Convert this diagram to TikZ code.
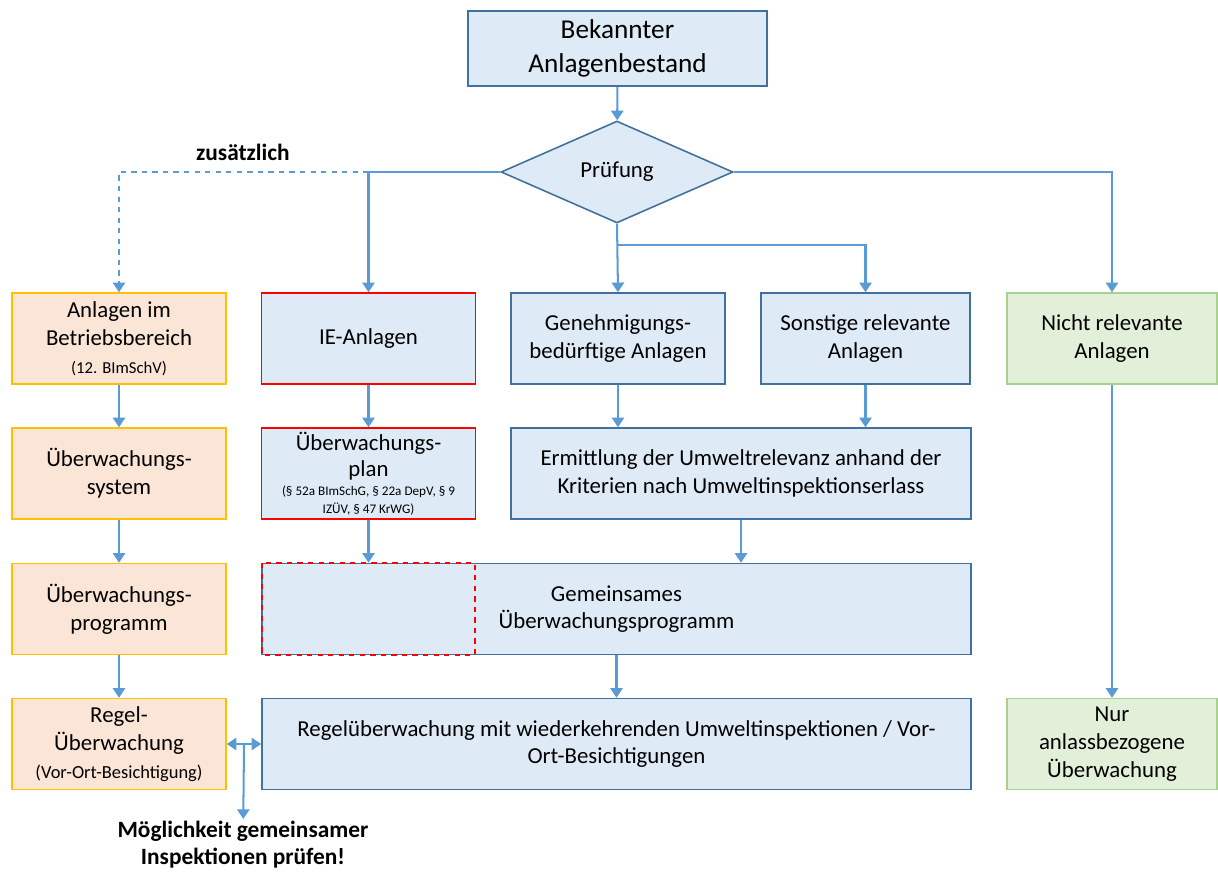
\documentclass[tikz,border=0pt]{standalone}
\usepackage{fontspec}
\setmainfont{Carlito}
\usetikzlibrary{shapes.geometric,arrows.meta,calc}
\definecolor{boxblue}{HTML}{DEEBF7}
\definecolor{edgeblue}{HTML}{41719C}
\definecolor{lineblue}{HTML}{5B9BD5}
\definecolor{boxorange}{HTML}{FBE5D6}
\definecolor{edgeorange}{HTML}{FFC000}
\definecolor{boxgreen}{HTML}{E2F0D9}
\definecolor{edgegreen}{HTML}{A9D18E}
\definecolor{edgered}{HTML}{FF0000}
\begin{document}
\begin{tikzpicture}[x=0.02cm,y=-0.02cm,
    blok/.style={draw=edgeblue,fill=boxblue,line width=0.9pt,align=center,
        font=\fontsize{13}{15.8}\selectfont,minimum width=4.28cm,minimum height=1.82cm,inner sep=2pt},
    orangeblok/.style={blok,draw=edgeorange,fill=boxorange},
    redblok/.style={blok,draw=edgered},
    greenblok/.style={blok,draw=edgegreen,fill=boxgreen},
    pfeil/.style={draw=lineblue,line width=1.15pt,-{Triangle[width=7pt,length=5.5pt]}},
    fett/.style={font=\bfseries\fontsize{13.3}{15.5}\selectfont,align=center}]
    \useasboundingbox (0,0) rectangle (1218,874);

    \node[blok,minimum width=5.98cm,minimum height=1.5cm,font=\fontsize{15.5}{19}\selectfont] (bestand) at (617.5,48.5){Bekannter\\Anlagenbestand};
    \node[blok,diamond,aspect=2.3,minimum width=4.64cm,minimum height=2.04cm,inner sep=0pt] (pruefung) at (617,172){Prüfung};

    % erste Reihe
    \node[orangeblok] (betrieb) at (119,338.5){Anlagen im\\Betriebsbereich\\{\fontsize{9.5}{11}\selectfont (12. BImSchV)}};
    \node[redblok] (iea) at (368.5,338.5){IE-Anlagen};
    \node[blok] (genehm) at (618,338.5){Genehmigungs-\\bedürftige Anlagen};
    \node[blok,minimum width=4.18cm] (sonst) at (865.5,338.5){Sonstige relevante\\Anlagen};
    \node[greenblok,minimum width=4.2cm] (nichtrel) at (1112,338.5){Nicht relevante\\Anlagen};

    % zweite Reihe
    \node[orangeblok] (uesys) at (119,473.5){Überwachungs-\\system};
    \node[redblok,inner sep=0pt,font=\fontsize{13}{15}\selectfont] (ueplan) at (368.5,473.5){Überwachungs-\\plan\\[-4pt]{\fontsize{7.5}{9}\selectfont (§ 52a BImSchG, § 22a DepV, § 9}\\[-5pt]{\fontsize{7.5}{9}\selectfont IZÜV, § 47 KrWG)}};
    \node[blok,minimum width=9.2cm] (ermitt) at (741,473.5){Ermittlung der Umweltrelevanz anhand der\\Kriterien nach Umweltinspektionserlass};

    % dritte Reihe
    \node[orangeblok] (ueprog) at (119,609){Überwachungs-\\programm};
    \node[blok,minimum width=14.18cm] (gemein) at (616.5,609){Gemeinsames\\Überwachungsprogramm};
    \draw[edgered,dashed,line width=0.9pt] (262,563) rectangle (475,655);

    % vierte Reihe
    \node[orangeblok] (regelue) at (119,744){Regel-\\Überwachung\\{\fontsize{10.5}{12}\selectfont (Vor-Ort-Besichtigung)}};
    \node[blok,minimum width=14.18cm] (regelinsp) at (616.5,744){Regelüberwachung mit wiederkehrenden Umweltinspektionen / Vor-\\Ort-Besichtigungen};
    \node[greenblok,minimum width=4.2cm] (anlass) at (1112,744){Nur\\anlassbezogene\\Überwachung};

    \node[fett] (zusatz) at (243,152){zusätzlich};
    \node[fett,anchor=north,inner sep=1pt] (hinweis) at (243,819){Möglichkeit gemeinsamer\\Inspektionen prüfen!};

    % Verbindungen
    \draw[pfeil] (bestand) -- (pruefung);
    \draw[pfeil] (pruefung.west) -| (iea.north);
    \coordinate (abzweig) at (iea.north |- pruefung.west);
    \draw[pfeil,dashed] (abzweig) -| (betrieb.north);
    \draw[pfeil] (pruefung.east) -| (nichtrel.north);
    \draw[pfeil] (pruefung.south) -- (genehm.north);
    \coordinate (gabel) at (617,245);
    \draw[pfeil] (gabel) -| (sonst.north);

    \draw[pfeil] (betrieb) -- (uesys);
    \draw[pfeil] (uesys) -- (ueprog);
    \draw[pfeil] (ueprog) -- (regelue);
    \draw[pfeil] (iea) -- (ueplan);
    \draw[pfeil] (ueplan.south) -- (ueplan.south |- gemein.north);
    \draw[pfeil] (genehm.south) -- (genehm.south |- ermitt.north);
    \draw[pfeil] (sonst.south) -- (sonst.south |- ermitt.north);
    \draw[pfeil] (ermitt.south) -- (ermitt.south |- gemein.north);
    \draw[pfeil] (gemein) -- (regelinsp);
    \draw[pfeil] (nichtrel) -- (anlass);

    \draw[pfeil,{Triangle[width=7pt,length=5.5pt]}-{Triangle[width=7pt,length=5.5pt]}] (regelue.east) -- (regelinsp.west);
    \coordinate (mitte) at ($(regelue.east)!0.5!(regelinsp.west)$);
    \draw[pfeil] (mitte) -- (hinweis);
\end{tikzpicture}
\end{document}
